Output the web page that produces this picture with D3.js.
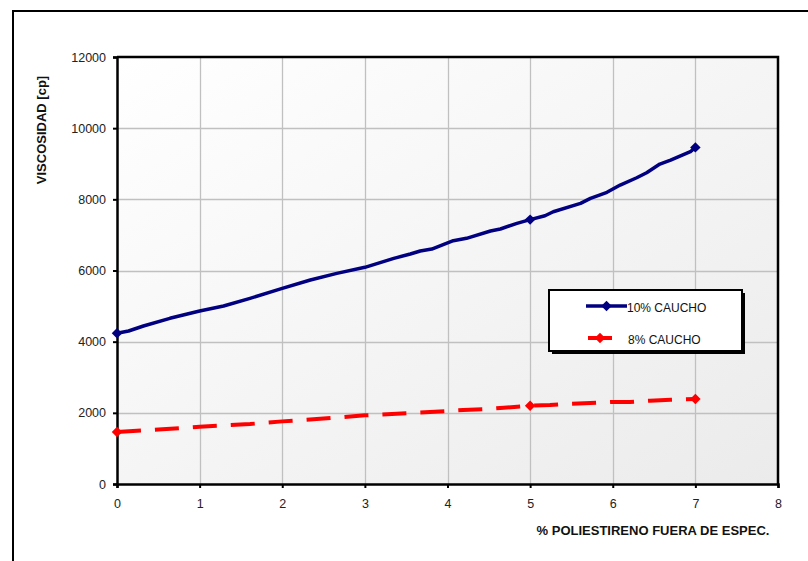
<!DOCTYPE html>
<html>
<head>
<meta charset="utf-8">
<script src="https://cdn.jsdelivr.net/npm/d3@7"></script>
<style>
  html, body { margin: 0; padding: 0; background: #fff; }
  svg { display: block; font-family: Arial, "Liberation Sans", sans-serif; }
</style>
</head>
<body>
<svg id="chart" width="808" height="561"></svg>
<script>
// Viscosity vs. off-spec polystyrene, two rubber contents
const xTicks = [0, 1, 2, 3, 4, 5, 6, 7, 8];
const yTicks = [0, 2000, 4000, 6000, 8000, 10000, 12000];

const caucho10X = [0, 0.14, 0.32, 0.64, 1.0, 1.29, 1.61, 2.0, 2.34, 2.66, 3.0, 3.35, 3.55, 3.67, 3.81, 4.07, 4.23, 4.52, 4.64, 4.84, 5.0, 5.18, 5.28, 5.61, 5.73, 5.93, 6.09, 6.29, 6.41, 6.57, 6.70, 6.94, 7.0];
const caucho10Y = [4235, 4299, 4440, 4656, 4861, 5002, 5218, 5499, 5732, 5920, 6089, 6342, 6463, 6547, 6603, 6837, 6904, 7109, 7166, 7326, 7430, 7540, 7652, 7888, 8028, 8197, 8402, 8607, 8748, 8992, 9104, 9338, 9460];

const caucho8X = [0, 0.5, 1.0, 1.61, 2.0, 2.5, 3.0, 3.5, 4.0, 4.19, 4.43, 4.68, 5.0, 5.24, 5.48, 5.73, 5.97, 6.21, 6.45, 6.70, 7.0];
const caucho8Y = [1460, 1530, 1610, 1686, 1760, 1840, 1930, 1990, 2050, 2079, 2099, 2144, 2200, 2220, 2256, 2276, 2304, 2304, 2341, 2369, 2390];

const markerX = [0, 5, 7];

const seriesNames = ["10% CAUCHO", "8% CAUCHO"];
const seriesColors = ["#000080", "#ff0000"];

const svg = d3.select("#chart");
const W = 808, H = 561;
const plot = { left: 117, top: 57, right: 778, bottom: 484 };

const x = d3.scaleLinear().domain([0, 8]).range([plot.left, plot.right]);
const y = d3.scaleLinear().domain([0, 12000]).range([plot.bottom, plot.top]);

// outer chart frame (runs past the page edge on the right and bottom)
svg.append("path")
  .attr("d", `M${W + 5},11 H13 V${H + 5}`)
  .attr("fill", "none").attr("stroke", "#000").attr("stroke-width", 2);

// plot area gradient
const defs = svg.append("defs");
const grad = defs.append("linearGradient").attr("id", "bg")
  .attr("x1", "0%").attr("y1", "0%").attr("x2", "100%").attr("y2", "100%");
grad.append("stop").attr("offset", "0%").attr("stop-color", "#ffffff");
grad.append("stop").attr("offset", "100%").attr("stop-color", "#ebebeb");

svg.append("rect")
  .attr("x", plot.left).attr("y", plot.top)
  .attr("width", plot.right - plot.left).attr("height", plot.bottom - plot.top)
  .attr("fill", "url(#bg)");

// gridlines
const grid = svg.append("g").attr("stroke", "#c0c0c0").attr("stroke-width", 1.3);
grid.selectAll("line.v").data(xTicks.slice(1, -1)).join("line")
  .attr("x1", d => Math.round(x(d)) + 0.5).attr("x2", d => Math.round(x(d)) + 0.5)
  .attr("y1", plot.top).attr("y2", plot.bottom);
grid.selectAll("line.h").data(yTicks.slice(1, -1)).join("line")
  .attr("y1", d => Math.round(y(d)) + 0.5).attr("y2", d => Math.round(y(d)) + 0.5)
  .attr("x1", plot.left).attr("x2", plot.right);

// top and right border of the plot area
svg.append("path")
  .attr("d", `M${plot.left},${plot.top} H${plot.right} V${plot.bottom}`)
  .attr("fill", "none").attr("stroke", "#000").attr("stroke-width", 2.5);

// axes
const xAxis = svg.append("g").attr("transform", `translate(0,${plot.bottom})`)
  .call(d3.axisBottom(x).tickValues(xTicks).tickFormat(d3.format("d")).tickSize(4).tickPadding(11));
const yAxis = svg.append("g").attr("transform", `translate(${plot.left},0)`)
  .call(d3.axisLeft(y).tickValues(yTicks).tickFormat(d3.format("d")).tickSize(4).tickPadding(7));
[xAxis, yAxis].forEach(g => {
  g.select(".domain").attr("stroke", "#000").attr("stroke-width", 2.5);
  g.selectAll(".tick line").attr("stroke", "#000").attr("stroke-width", 2);
  g.selectAll(".tick text").attr("fill", "#222").attr("font-size", 12.5)
    .attr("font-family", "Arial, 'Liberation Sans', sans-serif");
});

// axis titles
svg.append("text")
  .attr("x", 653).attr("y", 535).attr("text-anchor", "middle")
  .attr("font-size", 13).attr("font-weight", "bold").attr("fill", "#111")
  .text("% POLIESTIRENO FUERA DE ESPEC.");
svg.append("text")
  .attr("transform", "translate(46,130) rotate(-90)").attr("text-anchor", "middle")
  .attr("font-size", 13).attr("font-weight", "bold").attr("fill", "#111")
  .text("VISCOSIDAD [cp]");

// series
const line = d3.line().x(d => x(d[0])).y(d => y(d[1]));
const s10 = d3.zip(caucho10X, caucho10Y);
const s8 = d3.zip(caucho8X, caucho8Y);

svg.append("path").datum(s10).attr("d", line)
  .attr("fill", "none").attr("stroke", seriesColors[0]).attr("stroke-width", 3.5)
  .attr("stroke-linejoin", "round").attr("stroke-linecap", "round");
svg.append("path").datum(s8).attr("d", line)
  .attr("fill", "none").attr("stroke", seriesColors[1]).attr("stroke-width", 4)
  .attr("stroke-dasharray", "24,14");

// square diamond markers
const diamond = d3.symbol().type(d3.symbolDiamond2 || d3.symbolDiamond).size(70);
[[s10, seriesColors[0]], [s8, seriesColors[1]]].forEach(([s, c]) => {
  svg.append("g").selectAll("path")
    .data(s.filter(d => markerX.includes(d[0])))
    .join("path")
    .attr("d", diamond)
    .attr("transform", d => `translate(${x(d[0])},${y(d[1])})`)
    .attr("fill", c);
});

// legend
const lg = { x: 549, y: 290, w: 193, h: 61 };
svg.append("rect").attr("x", lg.x + 3).attr("y", lg.y + 3).attr("width", lg.w).attr("height", lg.h).attr("fill", "#000");
svg.append("rect").attr("x", lg.x).attr("y", lg.y).attr("width", lg.w).attr("height", lg.h)
  .attr("fill", "#fff").attr("stroke", "#000").attr("stroke-width", 2);

const legendRows = [
  { name: seriesNames[0], color: seriesColors[0], x1: 586, x2: 627, y: 306, tx: 627, w: 3.5 },
  { name: seriesNames[1], color: seriesColors[1], x1: 588, x2: 612, y: 338, tx: 628, w: 4 }
];
legendRows.forEach(r => {
  svg.append("line").attr("x1", r.x1).attr("x2", r.x2).attr("y1", r.y).attr("y2", r.y)
    .attr("stroke", r.color).attr("stroke-width", r.w);
  svg.append("path").attr("d", diamond).attr("transform", `translate(${(r.x1 + r.x2) / 2},${r.y})`).attr("fill", r.color);
  svg.append("text").attr("x", r.tx).attr("y", r.y + 6).attr("font-size", 12).attr("fill", "#111")
    .text(r.name);
});
</script>
</body>
</html>
